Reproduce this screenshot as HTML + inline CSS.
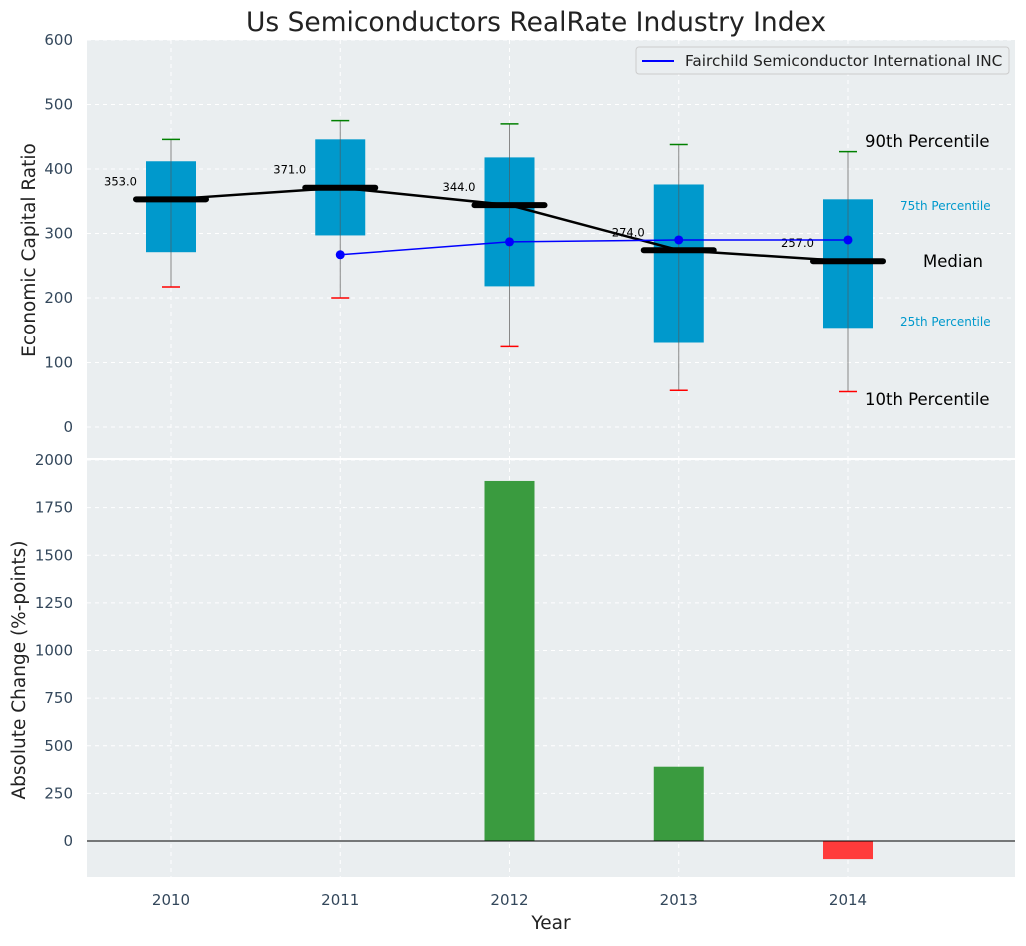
<!DOCTYPE html>
<html><head><meta charset="utf-8"><style>
body{margin:0;background:#fff;font-family:"DejaVu Sans","Liberation Sans",sans-serif}
svg text{font-family:"DejaVu Sans","Liberation Sans",sans-serif}
</style></head><body>
<svg id="c" width="1026" height="942" viewBox="0 0 1026 942" xmlns="http://www.w3.org/2000/svg">
<text x="536" y="31" font-size="26.5" text-anchor="middle" fill="#222">Us Semiconductors RealRate Industry Index</text>
<rect x="87" y="40" width="928" height="418" fill="#eaeef0"/>
<rect x="87" y="460" width="928" height="417" fill="#eaeef0"/>
<g id="g"></g>
<text x="35" y="250" font-size="18.5" text-anchor="middle" fill="#222" transform="rotate(-90 35 250)">Economic Capital Ratio</text>
<text x="25" y="670" font-size="18.5" text-anchor="middle" fill="#222" transform="rotate(-90 25 670)">Absolute Change (%-points)</text>
<text x="551" y="929" font-size="18.5" text-anchor="middle" fill="#222">Year</text>
<g>
<rect x="636" y="47" width="373" height="27" fill="#eaeef0" stroke="#ccc" rx="3"/>
<line x1="642" y1="61" x2="674" y2="61" stroke="#0000ff" stroke-width="2"/>
<text x="685" y="66" font-size="15.3" fill="#222">Fairchild Semiconductor International INC</text>
</g>
<g>
<text x="865" y="147" font-size="16.5" fill="#000">90th Percentile</text>
<text x="900" y="210" font-size="12" fill="#0099cc">75th Percentile</text>
<text x="923" y="267" font-size="16.5" fill="#000">Median</text>
<text x="900" y="326" font-size="12" fill="#0099cc">25th Percentile</text>
<text x="865" y="405" font-size="16.5" fill="#000">10th Percentile</text>
</g>
</svg>
<script>
const years=[2010,2011,2012,2013,2014];
const p10=[217,200,125,57,55];
const p25=[271,297,218,131,153];
const median=[353,371,344,274,257];
const p75=[412,446,418,376,353];
const p90=[446,475,470,438,427];
const companyYears=[2011,2012,2013,2014];
const companyValues=[267,287,290,290];
const changes=[0,0,1890,390,-95];
const topTicks=[0,100,200,300,400,500,600];
const botTicks=[0,250,500,750,1000,1250,1500,1750,2000];

const NS="http://www.w3.org/2000/svg";
const g=document.getElementById('g');
const x=v=>171+(v-2010)*169.25;
const yt=v=>427-v*0.645;
const yb=v=>841-v*0.1905;
function mk(t,a,p){const e=document.createElementNS(NS,t);for(const k in a)e.setAttribute(k,a[k]);(p||g).appendChild(e);return e;}
topTicks.forEach(v=>{
 const l=mk('line',{x1:87,x2:1015,y1:yt(v),y2:yt(v),stroke:'#fff','stroke-dasharray':'4,4','stroke-width':1});
 
 
 const t=mk('text',{x:73,y:yt(v)+5,'font-size':15,'text-anchor':'end',fill:'#33475b'});t.textContent=v;
 
 
});
botTicks.forEach(v=>{
 const l=mk('line',{x1:87,x2:1015,y1:yb(v),y2:yb(v),stroke:'#fff','stroke-dasharray':'4,4','stroke-width':1});
 
 
 const t=mk('text',{x:73,y:yb(v)+5,'font-size':15,'text-anchor':'end',fill:'#33475b'});t.textContent=v;
 
 
});
years.forEach(yr=>{
 [[40,458],[460,877]].forEach(r=>{const l=mk('line',{x1:x(yr),x2:x(yr),y1:r[0],y2:r[1],stroke:'#fff','stroke-dasharray':'4,4'});
 
 });
 const t=mk('text',{x:x(yr),y:905,'font-size':15,'text-anchor':'middle',fill:'#33475b'});t.textContent=yr;
 
 
});
mk('line',{x1:87,x2:1015,y1:459,y2:459,stroke:'#fff','stroke-width':2});
years.forEach((yr,i)=>{
 const cx=x(yr);
 const w=mk('line',{x1:cx,x2:cx,y1:yt(p90[i]),y2:yt(p10[i]),stroke:'#888','stroke-width':1});
 
 
 const b=mk('rect',{x:cx-25,y:yt(p75[i]),width:50,height:yt(p25[i])-yt(p75[i]),fill:'#0099cc'});
 
 
 mk('line',{x1:cx,x2:cx,y1:yt(p75[i]),y2:yt(p25[i]),stroke:'#555','stroke-width':1,opacity:0.6});
 const c1=mk('line',{x1:cx-9,x2:cx+9,y1:yt(p90[i]),y2:yt(p90[i]),stroke:'green','stroke-width':1.5});
 
 
 const c2=mk('line',{x1:cx-9,x2:cx+9,y1:yt(p10[i]),y2:yt(p10[i]),stroke:'red','stroke-width':1.5});
 
 
});
const mp=mk('polyline',{points:years.map((yr,i)=>x(yr)+','+yt(median[i])).join(' '),fill:'none',stroke:'#000','stroke-width':2.5});


years.forEach((yr,i)=>{
 const m=mk('line',{x1:x(yr)-35,x2:x(yr)+35,y1:yt(median[i]),y2:yt(median[i]),stroke:'#000','stroke-width':6,'stroke-linecap':'round'});
 
 
 const t=mk('text',{x:x(yr)-67,y:yt(median[i])-14,'font-size':11.5,fill:'#000'});t.textContent=median[i].toFixed(1);
 
 
});
const cl=mk('polyline',{points:companyYears.map((yr,i)=>x(yr)+','+yt(companyValues[i])).join(' '),fill:'none',stroke:'#0000ff','stroke-width':1.5});


companyYears.forEach((yr,i)=>{
 const p=mk('circle',{cx:x(yr),cy:yt(companyValues[i]),r:4.5,fill:'#0000ff'});
 
 
});
years.forEach((yr,i)=>{
 const v=changes[i];
 if(v===0)return;
 const r=mk('rect',{x:x(yr)-25,y:Math.min(yb(v),yb(0)),width:50,height:Math.abs(yb(v)-yb(0)),fill:v>=0?'#3a9b3f':'#ff3b3b'});
 
 
});
const z=mk('line',{x1:87,x2:1015,y1:yb(0),y2:yb(0),stroke:'#000','stroke-width':1});


</script>
</body></html>
